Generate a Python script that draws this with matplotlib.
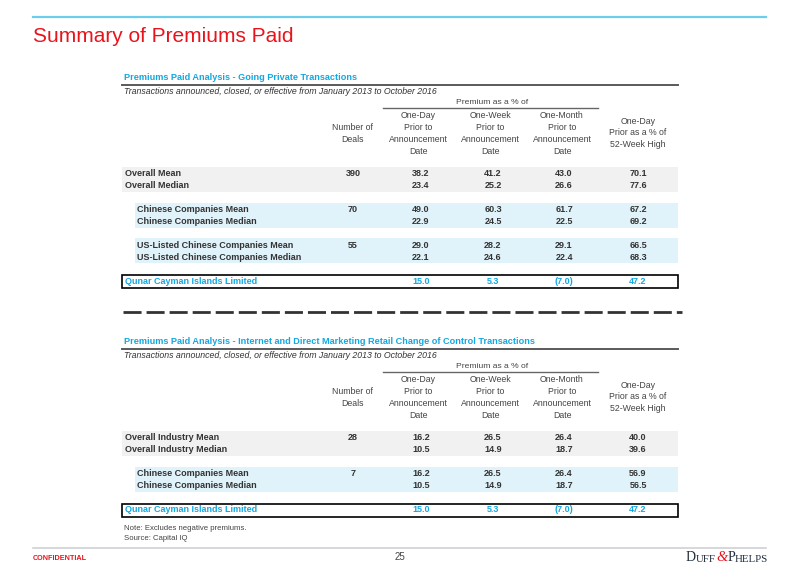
import matplotlib
matplotlib.use("Agg")
import matplotlib.pyplot as plt
from matplotlib.patches import Rectangle

plt.rcParams["font.family"] = ["Liberation Sans", "DejaVu Sans"]
plt.rcParams["lines.scale_dashes"] = False

# ---- data ----
col_headers = ["One-Day\nPrior to\nAnnouncement\nDate",
               "One-Week\nPrior to\nAnnouncement\nDate",
               "One-Month\nPrior to\nAnnouncement\nDate"]
hi_header = "One-Day\nPrior as a % of\n52-Week High"

sec1_title = "Premiums Paid Analysis - Going Private Transactions"
sec1_labels = ["Overall Mean", "Overall Median",
               "Chinese Companies Mean", "Chinese Companies Median",
               "US-Listed Chinese Companies Mean", "US-Listed Chinese Companies Median"]
sec1_deals = ["390", "", "70", "", "55", ""]
sec1_one_day = [38.2, 23.4, 49.0, 22.9, 29.0, 22.1]
sec1_one_week = [41.2, 25.2, 60.3, 24.5, 28.2, 24.6]
sec1_one_month = [43.0, 26.6, 61.7, 22.5, 29.1, 22.4]
sec1_52wk = [70.1, 77.6, 67.2, 69.2, 66.5, 68.3]

sec2_title = ("Premiums Paid Analysis - Internet and Direct Marketing Retail "
              "Change of Control Transactions")
sec2_labels = ["Overall Industry Mean", "Overall Industry Median",
               "Chinese Companies Mean", "Chinese Companies Median"]
sec2_deals = ["28", "", "7", ""]
sec2_one_day = [16.2, 10.5, 16.2, 10.5]
sec2_one_week = [26.5, 14.9, 26.5, 14.9]
sec2_one_month = [26.4, 18.7, 26.4, 18.7]
sec2_52wk = [40.0, 39.6, 56.9, 56.5]

target_name = "Qunar Cayman Islands Limited"
target_values = [15.0, 5.3, -7.0, 47.2]

subtitle = "Transactions announced, closed, or effective from January 2013 to October 2016"

# ---- style ----
BLUE = "#12a8e0"
RED = "#e8141c"
DARK = "#333333"
GRAY_BAND = "#f1f1f1"
BLUE_BAND = "#e1f3fa"
X_DEALS = 353
X_COLS = [421, 493, 564, 638]
X_HEAD = [418, 490, 562, 638]
X_LEFT, X_RIGHT = 122, 678
HEAD_FS = 6.3


def fmt(v):
    return "({:.1f})".format(-v) if v < 0 else "{:.1f}".format(v)


def draw_section(ax, top, title, labels, deals, cols, groups):
    ax.text(124, top, title, color=BLUE, fontsize=6.6, fontweight="bold", va="center")
    ax.plot([X_LEFT, X_RIGHT], [top + 6.5, top + 6.5], color="#5a5a5a", lw=1.4)
    ax.text(124, top + 14, subtitle, color=DARK, fontsize=6.3, style="italic", va="center")
    ax.text(492, top + 25, "Premium as a % of", color="#444444", fontsize=6.1,
            ha="center", va="center")
    ax.plot([383, 598], [top + 30, top + 30], color="#666666", lw=1.0)
    for x, h in zip(X_HEAD[:3], col_headers):
        for k, line in enumerate(h.split("\n")):
            ax.text(x, top + 37.5 + 12 * k, line, color="#444444", fontsize=HEAD_FS,
                    ha="center", va="center")
    for k, line in enumerate(["Number of", "Deals"]):
        ax.text(X_DEALS, top + 49.5 + 12 * k, line, color="#444444", fontsize=HEAD_FS,
                ha="center", va="center")
    for k, line in enumerate(hi_header.split("\n")):
        ax.text(X_HEAD[3], top + 43.5 + 11.3 * k, line, color="#444444", fontsize=HEAD_FS,
                ha="center", va="center")

    band_top = top + 89
    for rows, shade in groups:
        x0 = X_LEFT if shade == "gray" else 135
        ax.add_patch(Rectangle((x0, band_top), X_RIGHT - x0, 25,
                               facecolor=GRAY_BAND if shade == "gray" else BLUE_BAND,
                               edgecolor="none"))
        lx = 125 if shade == "gray" else 137
        for k, r in enumerate(rows):
            y = band_top + 7 + 12 * k
            ax.text(lx, y, labels[r], color=DARK, fontsize=6.5, fontweight="bold", va="center")
            if deals[r]:
                ax.text(X_DEALS, y, deals[r], color=DARK, fontsize=6.5, fontweight="bold",
                        ha="center", va="center")
            for x, c in zip(X_COLS, cols):
                ax.text(x, y, fmt(c[r]), color=DARK, fontsize=6.5, fontweight="bold",
                        ha="center", va="center")
        band_top += 25 + 10.5
    box_top = band_top - 10.5 + 12
    ax.add_patch(Rectangle((X_LEFT, box_top), X_RIGHT - X_LEFT, 13,
                           facecolor="white", edgecolor="black", lw=1.2))
    ax.text(125, box_top + 6.5, target_name, color=BLUE, fontsize=6.5, fontweight="bold",
            va="center")
    for x, v in zip(X_COLS, target_values):
        ax.text(x, box_top + 6.5, fmt(v), color=BLUE, fontsize=6.5, fontweight="bold",
                ha="center", va="center")


fig = plt.figure(figsize=(8, 5.71), dpi=100)
ax = fig.add_axes([0, 0, 1, 1])
ax.set_xlim(0, 800)
ax.set_ylim(571, 0)
ax.axis("off")

# header
ax.plot([33, 766], [17, 17], color="#6ccdec", lw=1.6)
ax.text(33, 36, "Summary of Premiums Paid", color=RED, fontsize=15, va="center")

draw_section(ax, 78, sec1_title, sec1_labels, sec1_deals,
             [sec1_one_day, sec1_one_week, sec1_one_month, sec1_52wk],
             [((0, 1), "gray"), ((2, 3), "blue"), ((4, 5), "blue")])

ax.plot([123, 682], [311.5, 311.5], color="#333333", lw=2.0, dashes=(13, 3.6))

draw_section(ax, 342, sec2_title, sec2_labels, sec2_deals,
             [sec2_one_day, sec2_one_week, sec2_one_month, sec2_52wk],
             [((0, 1), "gray"), ((2, 3), "blue")])

ax.text(124, 529, "Note: Excludes negative premiums.", color="#444444", fontsize=5.6, va="center")
ax.text(124, 539, "Source: Capital IQ", color="#444444", fontsize=5.6, va="center")

# footer
ax.plot([33, 766], [548, 548], color="#d0d0d8", lw=1.2)
ax.text(33, 558, "CONFIDENTIAL", color=RED, fontsize=5.2, fontweight="bold", va="center")
ax.text(400, 557, "25", color="#444444", fontsize=7, ha="center", va="center")

# logo
NAVY = "#1e2b3a"
pieces = [("D", 10, NAVY, "normal"), ("UFF", 7.8, NAVY, "normal"),
          ("&", 10.5, RED, "italic"), ("P", 10, NAVY, "normal"), ("HELPS", 7.8, NAVY, "normal")]
prev = ax.text(686, 561, pieces[0][0], fontsize=pieces[0][1], color=pieces[0][2],
               family=["Liberation Serif", "DejaVu Serif"], va="baseline")
for txt, size, color, st in pieces[1:]:
    prev = ax.annotate(txt, xy=(1, 0), xycoords=prev, va="bottom", ha="left",
                       fontsize=size, color=color, style=st,
                       family=["Liberation Serif", "DejaVu Serif"])

fig.savefig("out.png", dpi=100)
